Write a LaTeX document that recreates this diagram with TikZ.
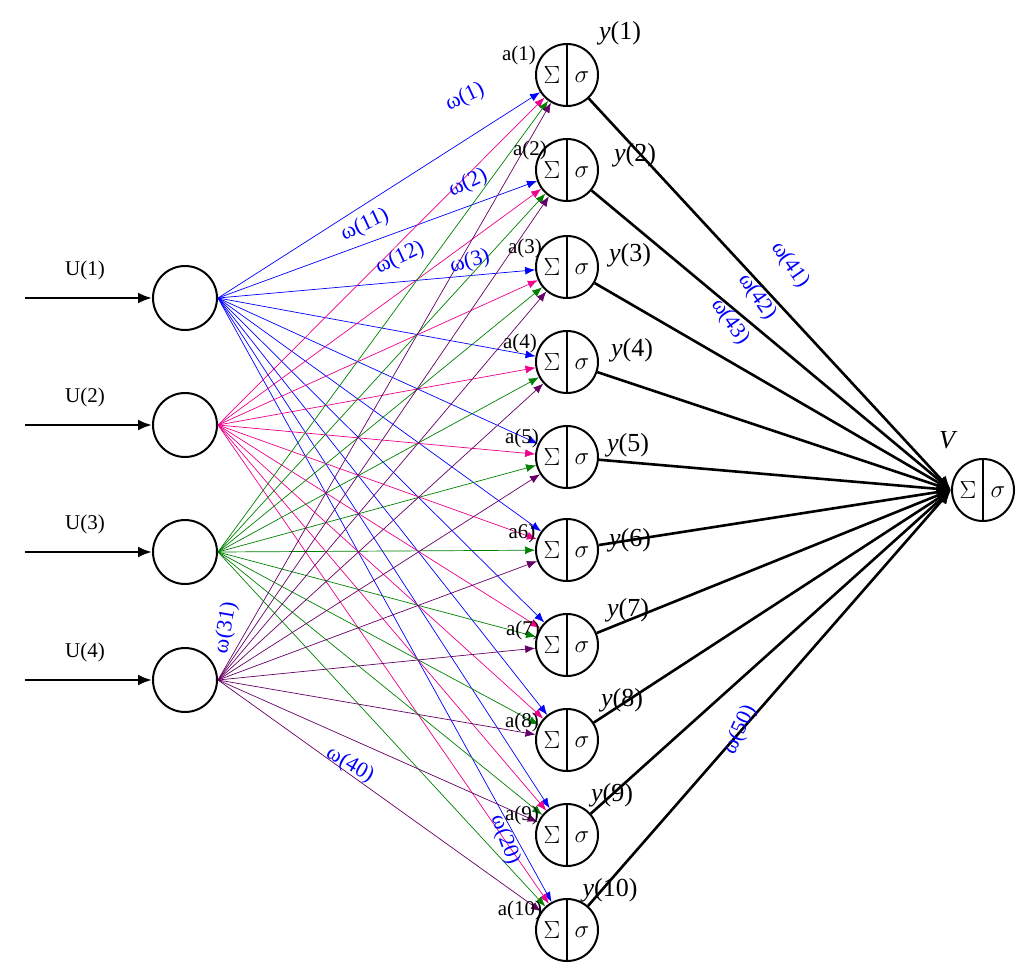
\documentclass[tikz,border=0pt]{standalone}
\usepackage{fontspec}
\setmainfont{Liberation Serif}
\usetikzlibrary{calc,arrows.meta}
\begin{document}
\begin{tikzpicture}[x=1pt,y=-1pt,
  inp/.style={circle,draw,line width=2pt,minimum size=64pt,inner sep=0pt},
  hid/.style={circle,draw,line width=2pt,minimum size=62pt,inner sep=0pt},
  wl/.style={text=blue,font=\fontsize{22}{24}\selectfont,inner sep=0pt},
  lab/.style={font=\fontsize{21}{24}\selectfont,inner sep=0pt},
  ylab/.style={font=\fontsize{26}{28}\selectfont\itshape,inner sep=0pt},
  conn/.style={line width=0.7pt,-{Latex[length=10pt,width=8pt]}},
  outc/.style={line width=2.6pt,-{Latex[length=14pt,width=12pt]}}]
\useasboundingbox (0,0) rectangle (1024,971);
\newcommand{\sigmanode}[3]{%
  \node[hid] (#1) at (#2,#3) {};
  \draw[line width=2pt] (#1.north) -- (#1.south);
  \node[font=\fontsize{34}{36}\selectfont,inner sep=0pt] at ($(#1)+(-15,0)$) {$\Sigma$};
  \node[font=\fontsize{32}{34}\selectfont,inner sep=0pt] at ($(#1)+(15,2)$) {$\sigma$};}
% inputs
\foreach \i/\y in {1/298,2/425,3/552,4/680}{
  \node[inp] (in\i) at (185,\y) {};
  \coordinate (s\i) at (25,\y);
  \draw[line width=2.4pt,-{Latex[length=14pt,width=11pt]}] (s\i) -- (in\i);
  \node[lab] at (85,\y-28) {U(\i)};
}
% hidden
\foreach \j/\y in {1/75,2/170,3/267,4/362,5/457,6/550,7/645,8/740,9/835,10/930}{
  \sigmanode{h\j}{567}{\y}
}
\sigmanode{o}{983}{490}
% connections
\foreach \i/\c in {1/blue,2/magenta,3/green!50!black,4/violet!80!black}{
  \foreach \j in {1,...,10}{
    \draw[conn,\c] (in\i.east) -- (h\j);
  }
}
\foreach \j in {1,...,10}{
  \draw[outc] (h\j) -- (o.west);
}
% hidden labels
\foreach \t/\x/\y in {a(1)/519/55,a(2)/530/150,a(3)/525/248,a(4)/520/343,a(5)/522/438,a6)/522/533,a(7)/523/630,a(8)/522/722,a(9)/522/815,a(10)/520/910}{
  \node[lab] at (\x,\y) {\t};
}
\foreach \t/\x/\y in {1/620/33,2/635/155,3/630/255,4/632/350,5/628/445,6/630/540,7/628/610,8/622/700,9/612/795,10/610/890}{
  \node[ylab] at (\x,\y) {y\upshape(\t)};
}
\node[ylab] at (947,440) {V};
% weight labels
\node[wl,rotate=25] at (465,97) {ω(1)};
\node[wl,rotate=25] at (468,183) {ω(2)};
\node[wl,rotate=15] at (470,262) {ω(3)};
\node[wl,rotate=25] at (365,225) {ω(11)};
\node[wl,rotate=25] at (400,258) {ω(12)};
\node[wl,rotate=80] at (226,628) {ω(31)};
\node[wl,rotate=-30] at (350,765) {ω(40)};
\node[wl,rotate=-70] at (505,840) {ω(20)};
\node[wl,rotate=-55] at (790,265) {ω(41)};
\node[wl,rotate=-55] at (757,297) {ω(42)};
\node[wl,rotate=-55] at (730,322) {ω(43)};
\node[wl,rotate=65] at (740,730) {ω(50)};
\end{tikzpicture}
\end{document}
